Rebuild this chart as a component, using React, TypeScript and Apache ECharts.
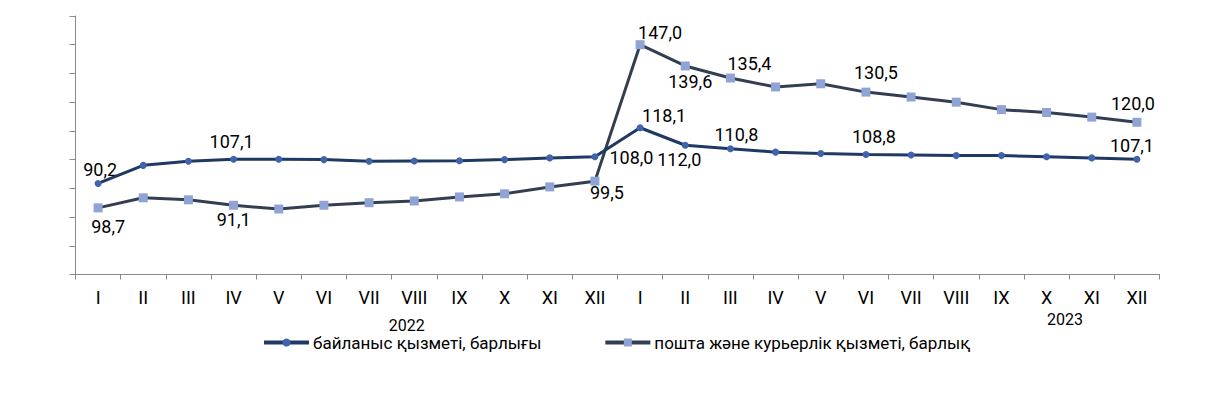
import React, { useEffect, useRef } from "react";
import * as echarts from "echarts";

const months = ["I", "II", "III", "IV", "V", "VI", "VII", "VIII", "IX", "X", "XI", "XII"];
const categories = [...months, ...months];
const years = ["2022", "2023"];
const seriesNames = ["байланыс қызметі, барлығы", "пошта және курьерлік қызметі, барлық"];

const commValues = [98.7, 105.0, 106.4, 107.1, 107.1, 107.0, 106.4, 106.5, 106.6, 107.0, 107.6, 108.0,
  118.1, 112.0, 110.8, 109.6, 109.1, 108.8, 108.6, 108.4, 108.4, 108.0, 107.6, 107.1];
const postValues = [90.2, 93.7, 93.0, 91.1, 89.8, 91.1, 92.0, 92.6, 94.0, 95.1, 97.5, 99.5,
  147.0, 139.6, 135.4, 132.3, 133.4, 130.5, 128.8, 127.0, 124.4, 123.4, 121.8, 120.0];

// label placement for labelled points: index -> [position, dx, dy]
const commLabels: Record<number, [string, number, number]> = {
  0: ["bottom", 10, 26], 3: ["top", -2, 0], 11: ["right", 6, 1], 12: ["top", 24, 5],
  13: ["bottom", -6, -3], 14: ["top", 6, 3], 17: ["top", 8, 0], 23: ["top", -5, 4],
};
const postLabels: Record<number, [string, number, number]> = {
  0: ["top", 2, -20], 3: ["bottom", 0, -4], 11: ["bottom", 12, -7], 12: ["top", 20, 6],
  13: ["bottom", 5, -3], 14: ["top", 19, 4], 17: ["top", 10, -1], 23: ["top", -4, 0],
};

const FONT = "Roboto, 'Noto Sans', sans-serif";
const fmt = (v: number) => v.toFixed(1).replace(".", ",");

function buildData(values: number[], labels: Record<number, [string, number, number]>) {
  return values.map((v, i) => {
    const l = labels[i];
    if (!l) return v;
    return { value: v, label: { show: true, position: l[0], offset: [l[1], l[2]] } };
  });
}

export default function App() {
  const ref = useRef<HTMLDivElement>(null);
  useEffect(() => {
    if (!ref.current) return;
    const chart = echarts.init(ref.current, undefined, { renderer: "svg" });
    const labelStyle = {
      show: false,
      fontSize: 18,
      color: "#000",
      fontFamily: FONT,
      formatter: (p: any) => fmt(Number(p.value)),
    };
    chart.setOption({
      animation: false,
      backgroundColor: "#fff",
      textStyle: { fontFamily: FONT },
      grid: { left: 75.5, right: 58.5, top: 16, bottom: 121.5, containLabel: false },
      xAxis: {
        type: "category",
        data: categories,
        boundaryGap: true,
        axisLine: { show: true, lineStyle: { color: "#8a8a8a", width: 1 } },
        axisTick: { show: true, length: 5, lineStyle: { color: "#8a8a8a" } },
        axisLabel: { color: "#000", fontSize: 18, fontFamily: FONT, margin: 14, interval: 0 },
        splitLine: { show: false },
      },
      yAxis: {
        type: "value",
        min: 67,
        max: 157,
        interval: 10,
        axisLine: { show: true, lineStyle: { color: "#8a8a8a", width: 1 } },
        axisTick: { show: true, length: 6, lineStyle: { color: "#8a8a8a" } },
        axisLabel: { show: false },
        splitLine: { show: false },
      },
      legend: {
        left: 262,
        top: 334,
        padding: 0,
        itemWidth: 45,
        itemHeight: 10,
        itemGap: 62,
        lineStyle: { width: 4 },
        textStyle: { fontSize: 17, color: "#000", fontFamily: FONT, padding: [0, 0, 0, -1] },
        data: [
          { name: seriesNames[0] },
          { name: seriesNames[1] },
        ],
      },
      series: [
        {
          name: seriesNames[0],
          type: "line",
          data: buildData(commValues, commLabels),
          symbol: "circle",
          symbolSize: 7,
          showAllSymbol: true,
          lineStyle: { color: "#1f3864", width: 3 },
          itemStyle: { color: "#4063ad" },
          label: labelStyle,
          z: 3,
        },
        {
          name: seriesNames[1],
          type: "line",
          data: buildData(postValues, postLabels),
          symbol: "rect",
          symbolSize: 9,
          showAllSymbol: true,
          lineStyle: { color: "#333f50", width: 3 },
          itemStyle: { color: "#8fa3d4" },
          label: labelStyle,
          z: 2,
        },
      ],
      graphic: [
        { type: "text", x: 406.7, y: 325.3, style: { text: years[0], fontSize: 16, fill: "#000", fontFamily: FONT, textAlign: "center", textVerticalAlign: "middle" } },
        { type: "text", x: 1065, y: 319, style: { text: years[1], fontSize: 16, fill: "#000", fontFamily: FONT, textAlign: "center", textVerticalAlign: "middle" } },
      ],
    });
    return () => chart.dispose();
  }, []);
  return <div ref={ref} style={{ position: "fixed", left: 0, top: 0, width: 1218, height: 396 }} />;
}
